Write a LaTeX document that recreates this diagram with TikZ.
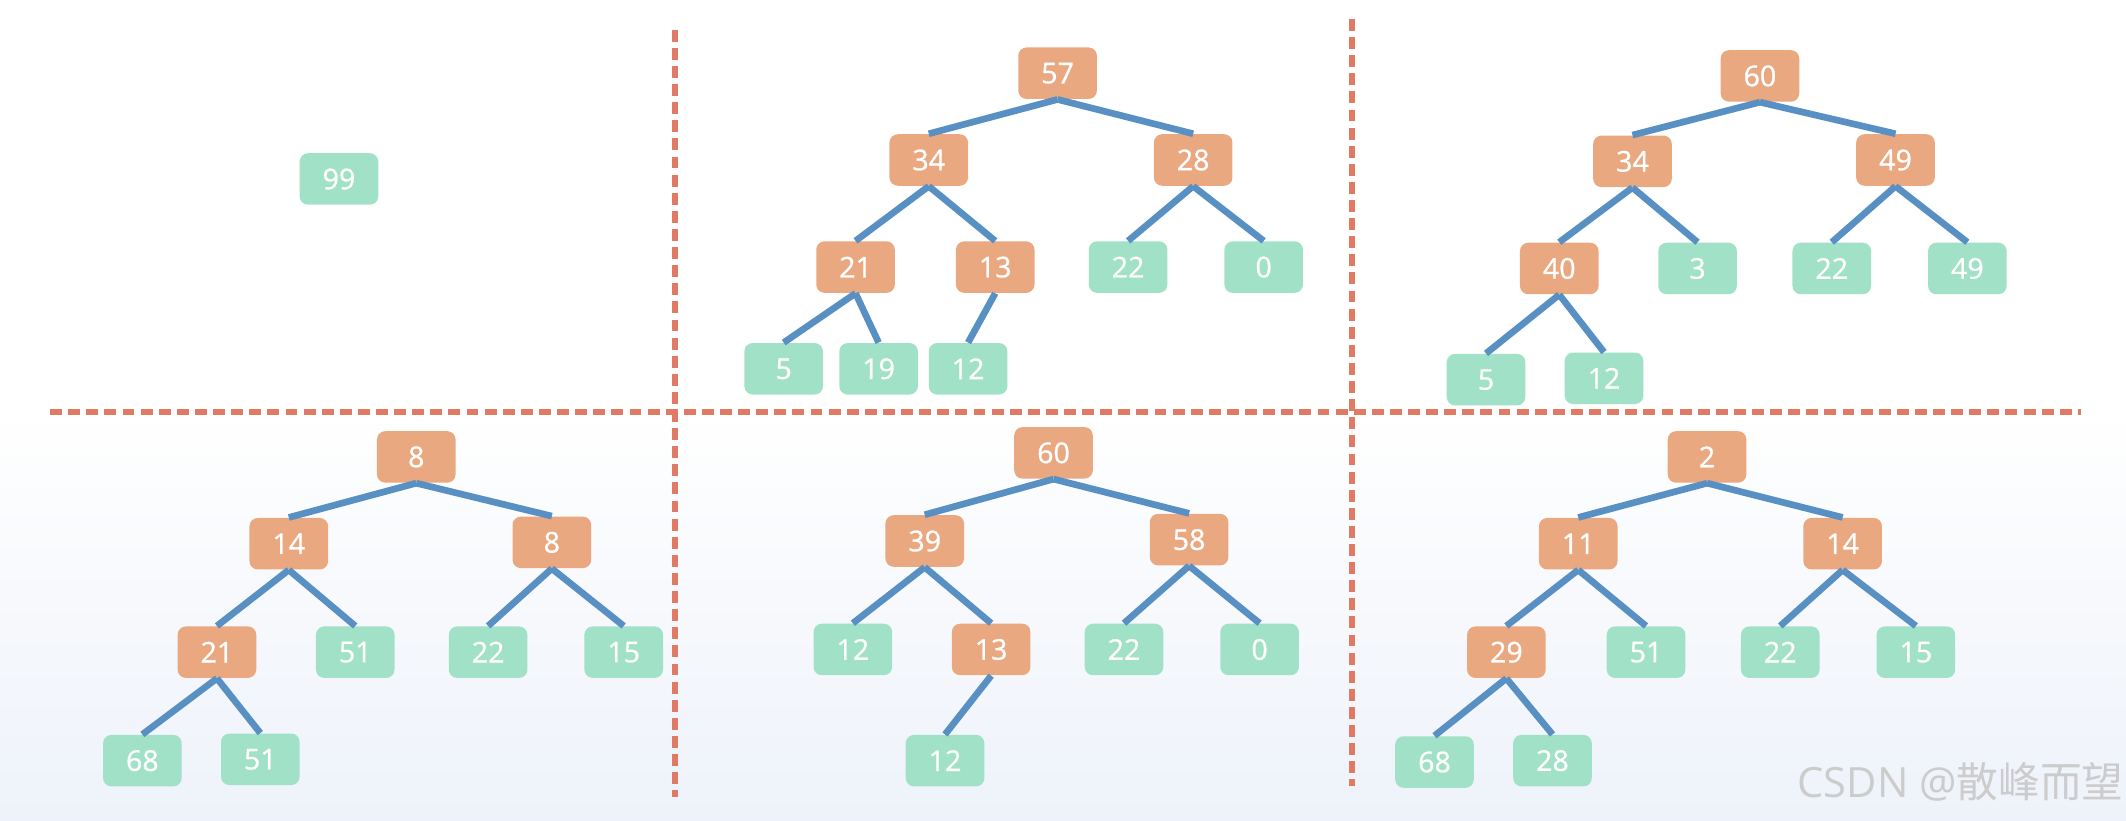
\documentclass[tikz,border=0pt]{standalone}
\usepackage{fontspec}
\usepackage{tikz}
\newfontfamily\numfont[FakeBold=0.9]{Open Sans}
\newfontfamily\markfont{Open Sans}
\newfontfamily\cjkfont{Noto Sans CJK SC}
\definecolor{heaporange}{RGB}{234,168,128}
\definecolor{heapgreen}{RGB}{160,225,200}
\definecolor{heapblue}{RGB}{88,144,196}
\definecolor{heapred}{RGB}{224,122,100}
\definecolor{heapback}{RGB}{238,242,250}

\begin{document}
\begin{tikzpicture}[x=0.02cm, y=-0.02cm,
  inode/.style={fill=heaporange, rounded corners=3.5pt, inner sep=0pt,
                minimum width=1.16cm, minimum height=0.76cm, text=white,
                font=\numfont\fontsize{12}{14}\selectfont},
  lnode/.style={inode, fill=heapgreen},
  link/.style={draw=heapblue, line width=2.8pt},
  sep/.style={draw=heapred, line width=2.5pt, dash pattern=on 5pt off 2.6pt}]

  \useasboundingbox (0,0) rectangle (1568,605);
  \fill[top color=white, bottom color=heapback] (0,300) rectangle (1568,605);

  % separators
  \draw[sep] (37,304) -- (1535,304);
  \draw[sep] (498,22) -- (498,588);
  \draw[sep] (997,14) -- (997,580);

  % panel a
  \node[lnode] (a1) at (250,132) {99};

  % panel b
  \node[inode] (b1)  at (780,54)  {57};
  \node[inode] (b2)  at (685,118) {34};
  \node[inode] (b3)  at (880,118) {28};
  \node[inode] (b4)  at (631,197) {21};
  \node[inode] (b5)  at (734,197) {13};
  \node[lnode] (b6)  at (832,197) {22};
  \node[lnode] (b7)  at (932,197) {0};
  \node[lnode] (b8)  at (578,272) {5};
  \node[lnode] (b9)  at (648,272) {19};
  \node[lnode] (b10) at (714,272) {12};
  \draw[link] (b1.south) -- (b2.north);
  \draw[link] (b1.south) -- (b3.north);
  \draw[link] (b2.south) -- (b4.north);
  \draw[link] (b2.south) -- (b5.north);
  \draw[link] (b3.south) -- (b6.north);
  \draw[link] (b3.south) -- (b7.north);
  \draw[link] (b4.south) -- (b8.north);
  \draw[link] (b4.south) -- (b9.north);
  \draw[link] (b5.south) -- (b10.north);

  % panel c
  \node[inode] (c1) at (1298,56)  {60};
  \node[inode] (c2) at (1204,119) {34};
  \node[inode] (c3) at (1398,118) {49};
  \node[inode] (c4) at (1150,198) {40};
  \node[lnode] (c5) at (1252,198) {3};
  \node[lnode] (c6) at (1351,198) {22};
  \node[lnode] (c7) at (1451,198) {49};
  \node[lnode] (c8) at (1096,280) {5};
  \node[lnode] (c9) at (1183,279) {12};
  \draw[link] (c1.south) -- (c2.north);
  \draw[link] (c1.south) -- (c3.north);
  \draw[link] (c2.south) -- (c4.north);
  \draw[link] (c2.south) -- (c5.north);
  \draw[link] (c3.south) -- (c6.north);
  \draw[link] (c3.south) -- (c7.north);
  \draw[link] (c4.south) -- (c8.north);
  \draw[link] (c4.south) -- (c9.north);

  % panel d
  \node[inode] (d1) at (307,337) {8};
  \node[inode] (d2) at (213,401) {14};
  \node[inode] (d3) at (407,400) {8};
  \node[inode] (d4) at (160,481) {21};
  \node[lnode] (d5) at (262,481) {51};
  \node[lnode] (d6) at (360,481) {22};
  \node[lnode] (d7) at (460,481) {15};
  \node[lnode] (d8) at (105,561) {68};
  \node[lnode] (d9) at (192,560) {51};
  \draw[link] (d1.south) -- (d2.north);
  \draw[link] (d1.south) -- (d3.north);
  \draw[link] (d2.south) -- (d4.north);
  \draw[link] (d2.south) -- (d5.north);
  \draw[link] (d3.south) -- (d6.north);
  \draw[link] (d3.south) -- (d7.north);
  \draw[link] (d4.south) -- (d8.north);
  \draw[link] (d4.south) -- (d9.north);

  % panel e
  \node[inode] (e1) at (777,334) {60};
  \node[inode] (e2) at (682,399) {39};
  \node[inode] (e3) at (877,398) {58};
  \node[lnode] (e4) at (629,479) {12};
  \node[inode] (e5) at (731,479) {13};
  \node[lnode] (e6) at (829,479) {22};
  \node[lnode] (e7) at (929,479) {0};
  \node[lnode] (e8) at (697,561) {12};
  \draw[link] (e1.south) -- (e2.north);
  \draw[link] (e1.south) -- (e3.north);
  \draw[link] (e2.south) -- (e4.north);
  \draw[link] (e2.south) -- (e5.north);
  \draw[link] (e3.south) -- (e6.north);
  \draw[link] (e3.south) -- (e7.north);
  \draw[link] (e5.south) -- (e8.north);

  % panel f
  \node[inode] (f1) at (1259,337) {2};
  \node[inode] (f2) at (1164,401) {11};
  \node[inode] (f3) at (1359,401) {14};
  \node[inode] (f4) at (1111,481) {29};
  \node[lnode] (f5) at (1214,481) {51};
  \node[lnode] (f6) at (1313,481) {22};
  \node[lnode] (f7) at (1413,481) {15};
  \node[lnode] (f8) at (1058,562) {68};
  \node[lnode] (f9) at (1145,561) {28};
  \draw[link] (f1.south) -- (f2.north);
  \draw[link] (f1.south) -- (f3.north);
  \draw[link] (f2.south) -- (f4.north);
  \draw[link] (f2.south) -- (f5.north);
  \draw[link] (f3.south) -- (f6.north);
  \draw[link] (f3.south) -- (f7.north);
  \draw[link] (f4.south) -- (f8.north);
  \draw[link] (f4.south) -- (f9.north);

  \node[text=black!20, font=\fontsize{17.5}{20}\selectfont\markfont] (mark) at (1446,577)
    {CSDN @{\cjkfont 散峰而望}};
\end{tikzpicture}
\end{document}
